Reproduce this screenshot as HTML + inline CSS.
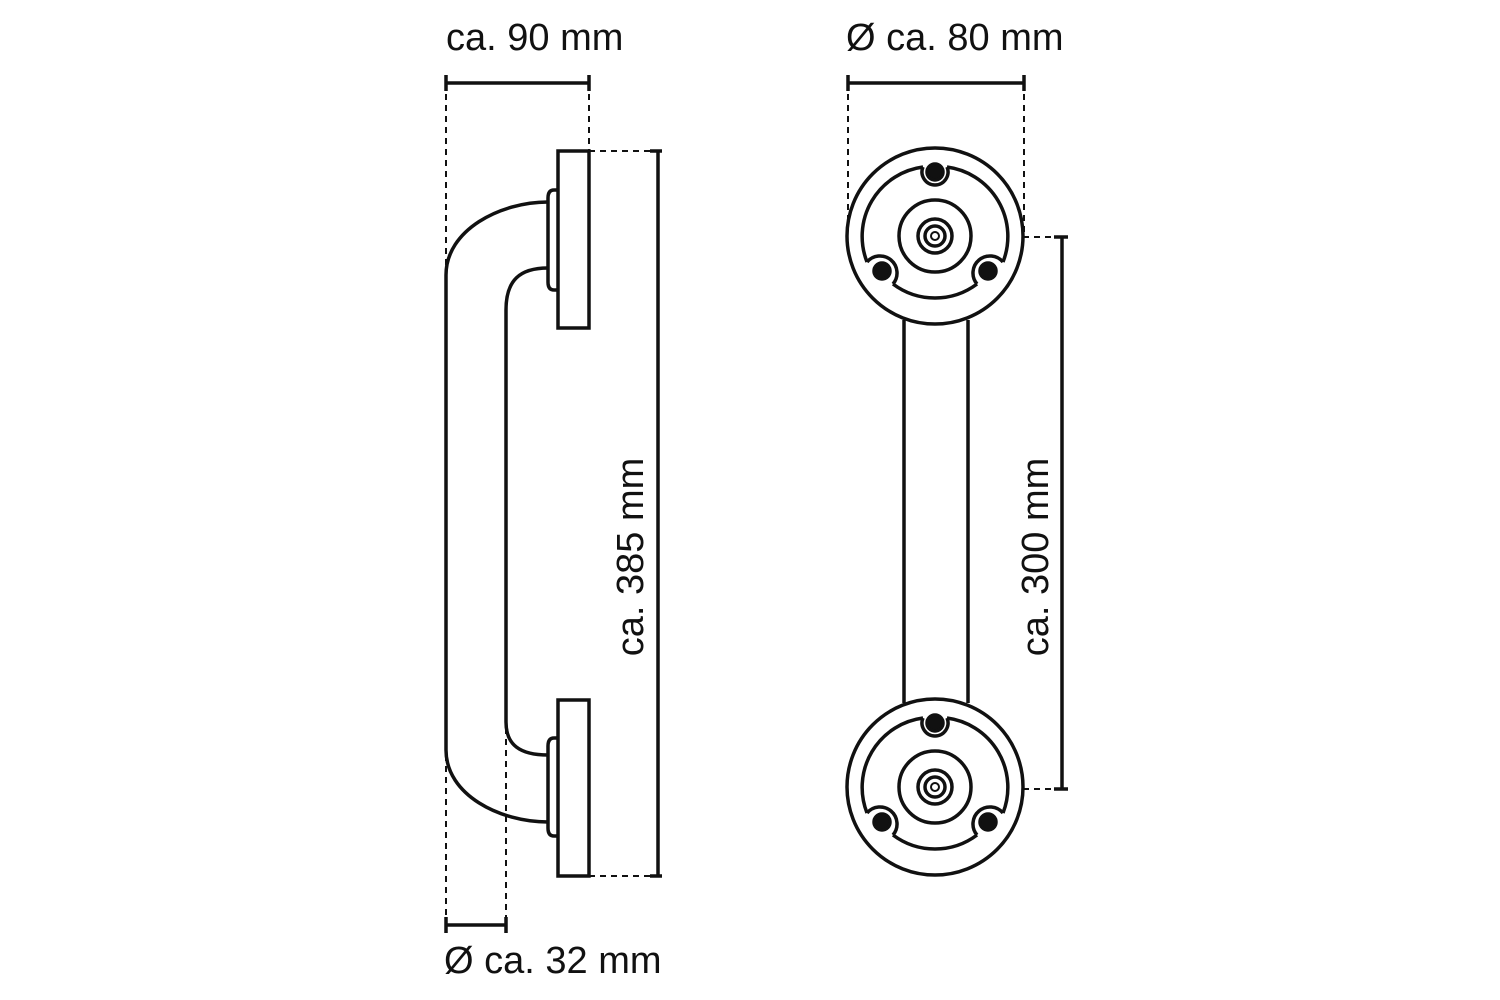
<!DOCTYPE html>
<html><head><style>body{margin:0;background:#fff}svg{display:block}text{font-family:"Liberation Sans",sans-serif;font-size:38px;fill:#111}</style></head><body>
<svg width="1500" height="1000" viewBox="0 0 1500 1000">
<g fill="none" stroke="#111" stroke-width="3.5">
<rect x="558" y="151" width="31" height="177"/>
<rect x="558" y="700" width="31" height="176"/>
<path d="M558 190 h-4 q-6 0 -6 8 v84 q0 8 6 8 h4"/>
<path d="M558 738 h-4 q-6 0 -6 8 v82 q0 8 6 8 h4"/>
<path d="M548 202 C500 202 446 230 446 275 V750 C446 795 500 822 548 822"/>
<path d="M548 268 C520 268 506 280 506 310 V722 C506 745 520 755 548 755"/>
<line x1="446" y1="83" x2="589" y2="83"/><line x1="446" y1="75" x2="446" y2="91"/><line x1="589" y1="75" x2="589" y2="91"/>
<line x1="658" y1="151" x2="658" y2="876"/><line x1="650" y1="151" x2="662" y2="151"/><line x1="650" y1="876" x2="662" y2="876"/>
<line x1="446" y1="925" x2="506" y2="925"/><line x1="446" y1="917" x2="446" y2="933"/><line x1="506" y1="917" x2="506" y2="933"/>
<line x1="848" y1="83" x2="1024" y2="83"/><line x1="848" y1="75" x2="848" y2="91"/><line x1="1024" y1="75" x2="1024" y2="91"/>
<line x1="1062" y1="237" x2="1062" y2="789"/><line x1="1054" y1="237" x2="1068" y2="237"/><line x1="1054" y1="789" x2="1068" y2="789"/>
<line x1="904" y1="320" x2="904" y2="703"/><line x1="968" y1="320" x2="968" y2="703"/>
</g>
<g fill="none" stroke="#111" stroke-width="2" stroke-dasharray="6,5">
<line x1="446" y1="83" x2="446" y2="272"/><line x1="446" y1="755" x2="446" y2="925"/>
<line x1="506" y1="728" x2="506" y2="925"/>
<line x1="589" y1="83" x2="589" y2="151"/>
<line x1="589" y1="151" x2="658" y2="151"/><line x1="589" y1="876" x2="658" y2="876"/>
<line x1="848" y1="83" x2="848" y2="236"/><line x1="1024" y1="83" x2="1024" y2="236"/>
<line x1="935" y1="237" x2="1062" y2="237"/><line x1="935" y1="789" x2="1062" y2="789"/>
</g>
<g id="ros" fill="none" stroke="#111" stroke-width="3.5">
<circle cx="935" cy="236" r="88" fill="#fff"/>
<path d="M923 167 A70 70 0 0 0 867 262 M893 284 A70 70 0 0 0 977 284 M1003 262 A70 70 0 0 0 947 167"/>
<path d="M923 167 A13 13 0 1 0 947 167 M867 262 a13 13 0 0 1 26 22 M977 284 a13 13 0 0 1 26 -22"/>
<circle cx="935" cy="236" r="36"/><circle cx="935" cy="236" r="17"/><circle cx="935" cy="236" r="10"/><circle cx="935" cy="236" r="4" stroke-width="2"/>
<circle cx="935" cy="172" r="8" fill="#111"/><circle cx="882" cy="271" r="8" fill="#111"/><circle cx="988" cy="271" r="8" fill="#111"/>
</g>
<use href="#ros" transform="translate(0,551)"/>
<text x="446" y="50">ca. 90 mm</text>
<text x="846" y="50">Ø ca. 80 mm</text>
<text x="444" y="973">Ø ca. 32 mm</text>
<text transform="translate(643,557) rotate(-90)" text-anchor="middle">ca. 385 mm</text>
<text transform="translate(1048,557) rotate(-90)" text-anchor="middle">ca. 300 mm</text>
</svg>
</body></html>
